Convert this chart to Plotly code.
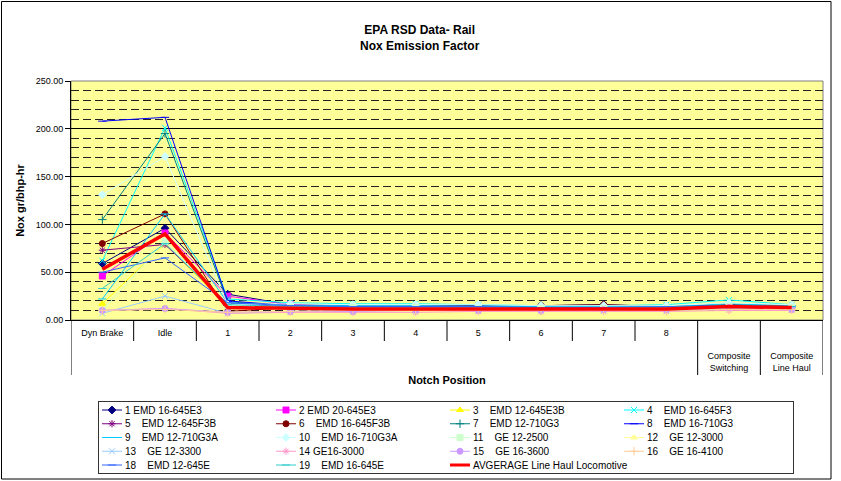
import plotly.graph_objects as go

# ---------------- data ----------------
categories = ["Dyn Brake", "Idle", "1", "2", "3", "4", "5", "6", "7", "8",
              "Composite Switching", "Composite Line Haul"]
tick_text = ["Dyn Brake", "Idle", "1", "2", "3", "4", "5", "6", "7", "8",
             "<br><br>Composite<br>Switching", "<br><br>Composite<br>Line Haul"]

s1 = [59, 96, 27, 16, 15, 15, 15, 15, 16, 14, 16, 15]
s2 = [46, 91, 25, 16, 14, 14, 13, 13, 13, 13, 14, 13]
s3 = [17, 80, 14, 12, 11, 11, 11, 11, 11, 12, 13, 12]
s4 = [62, 201, 22, 18, 17, 17, 16, 15, 15, 16, 21, 16]
s5 = [73, 79, 17, 14, 13, 13, 13, 13, 13, 14, 15, 14]
s6 = [80, 111, 9, 13, 13, 14, 13, 15, 16, 14, 15, 15]
s7 = [105, 195, 19, 15, 14, 14, 13, 10, 13, 13, 15, 14]
s8 = [208, 212, 20, 15, 14, 14, 14, 14, 14, 14, 15, 14]
s9 = [22, 111, 18, 15, 15, 15, 14, 14, 14, 14, 17, 15]
s10 = [131, 171, 16, 17, 16, 16, 16, 15, 15, 15, 18, 16]
s11 = [10, 82, 15, 13, 13, 13, 12, 12, 12, 12, 14, 13]
s12 = [6, 15, 8, 9, 9, 9, 9, 9, 9, 9, 11, 10]
s13 = [7, 25, 7, 9, 10, 10, 10, 10, 10, 10, 12, 11]
s14 = [10, 12, 7, 8, 8, 8, 9, 9, 9, 9, 10, 10]
s15 = [10, 12, 8, 9, 9, 10, 10, 10, 11, 11, 13, 11]
s16 = [10, 11, 8, 9, 10, 10, 10, 10, 10, 10, 11, 11]
s18 = [50, 65, 18, 15, 14, 14, 14, 13, 13, 14, 15, 14]
s19 = [33, 80, 16, 14, 13, 13, 13, 12, 12, 13, 15, 14]
avg = [53, 90, 13, 12, 11.5, 11.5, 11.5, 11, 11.5, 11.5, 14, 13]

series_values = [s1, s2, s3, s4, s5, s6, s7, s8, s9, s10, s11, s12,
                 s13, s14, s15, s16, s18, s19, avg]
NB = "\u00a0"
series_names = [
    "1 EMD 16-645E3", "2 EMD 20-645E3",
    "3" + NB * 4 + "EMD 12-645E3B", "4" + NB * 4 + "EMD 16-645F3",
    "5" + NB * 4 + "EMD 12-645F3B", "6" + NB * 4 + "EMD 16-645F3B",
    "7" + NB * 4 + "EMD 12-710G3", "8" + NB * 4 + "EMD 16-710G3",
    "9" + NB * 4 + "EMD 12-710G3A", "10" + NB * 4 + "EMD 16-710G3A",
    "11" + NB * 4 + "GE 12-2500", "12" + NB * 4 + "GE 12-3000",
    "13" + NB * 4 + "GE 12-3300", "14 GE16-3000",
    "15" + NB * 4 + "GE 16-3600", "16" + NB * 4 + "GE 16-4100",
    "18" + NB * 4 + "EMD 12-645E", "19" + NB * 4 + "EMD 16-645E",
    "AVGERAGE Line Haul Locomotive",
]
series_colors = ["#000080", "#FF00FF", "#FFFF00", "#00FFFF", "#800080", "#800000",
                 "#008080", "#0000FF", "#00CCFF", "#CCFFFF", "#CCFFCC", "#FFFF99",
                 "#99CCFF", "#FF99CC", "#CC99FF", "#FFCC99", "#3366FF", "#33CCCC",
                 "#FF0000"]
series_symbols = ["diamond", "square", "triangle-up", "x-thin-open", "asterisk-open",
                  "circle", "cross-thin-open", "line-ew-open", "line-ew-open",
                  "diamond", "square", "triangle-up", "x-thin-open", "asterisk-open",
                  "circle", "cross-thin-open", "line-ew-open", "line-ew-open", None]

# category boundaries: short tick marks and long ones
short_bounds = [0.5, 1.5, 2.5, 3.5, 4.5, 5.5, 6.5, 7.5, 8.5]
long_bounds = [-0.5, 9.5, 10.5, 11.5]

# ---------------- layout constants (pixels) ----------------
W, H = 841, 481
ML, MR, MT, MB = 71, 18, 81, 8
PW = W - ML - MR
PH = H - MT - MB
plot_bottom_px = 320
legend_top_px, legend_bottom_px = 402, 473
legend_left_px, legend_right_px = 99, 793


def px_x(p):
    return (p - ML) / PW


def px_y(p):
    return (H - MB - p) / PH


FONT = "Liberation Sans, Arial, sans-serif"
PLOT_BG = "#FFFF99"

fig = go.Figure()

for vals, name, col, sym in zip(series_values, series_names, series_colors, series_symbols):
    is_avg = sym is None
    fig.add_trace(go.Scatter(
        x=categories, y=vals, name=name, mode="lines" if is_avg else "lines+markers",
        line=dict(color=col, width=3.5 if is_avg else 1),
        marker=dict(symbol=sym or "circle", size=6, color=col,
                    line=dict(color=col, width=1)),
        showlegend=False, xaxis="x", yaxis="y",
    ))

# ---- custom legend drawn in its own small axes ----
LEG_W = legend_right_px - legend_left_px
LEG_H = legend_bottom_px - legend_top_px
col_w, row_h = 174, 13.75
annotations = []
for i, (name, col, sym) in enumerate(zip(series_names, series_colors, series_symbols)):
    c, r = i % 4, i // 4
    x0 = 3 + c * col_w
    yy = LEG_H - (8 + r * row_h)
    fig.add_trace(go.Scatter(
        x=[x0, x0 + 20], y=[yy, yy], mode="lines", showlegend=False,
        line=dict(color=col, width=3 if sym is None else 1),
        xaxis="x2", yaxis="y2", hoverinfo="skip"))
    if sym is not None:
        fig.add_trace(go.Scatter(
            x=[x0 + 10], y=[yy], mode="markers", showlegend=False,
            marker=dict(symbol=sym, size=6, color=col, line=dict(color=col, width=1)),
            xaxis="x2", yaxis="y2", hoverinfo="skip"))
    annotations.append(dict(
        x=x0 + 21, y=yy, xref="x2", yref="y2", text=name, showarrow=False,
        xanchor="left", yanchor="middle", font=dict(family=FONT, size=10, color="black")))

annotations.append(dict(
    x=px_x(420), y=px_y(38), xref="paper", yref="paper", showarrow=False,
    text="<b>EPA RSD Data- Rail<br>Nox Emission Factor</b>",
    font=dict(family=FONT, size=12, color="black"), xanchor="center", yanchor="middle"))

main_y_bottom = px_y(plot_bottom_px)

shapes = [
    # yellow plot area
    dict(type="rect", xref="x domain", yref="y domain", x0=0, x1=1, y0=0, y1=1,
         fillcolor=PLOT_BG, line=dict(color="#808080", width=1), layer="below"),
    # outer chart border
    dict(type="rect", xref="paper", yref="paper",
         x0=px_x(1.5), x1=px_x(831), y0=px_y(1.5), y1=px_y(479),
         line=dict(color="black", width=1)),
]
for b in short_bounds:
    shapes.append(dict(type="line", xref="x", yref="paper", x0=b, x1=b,
                       y0=main_y_bottom, y1=px_y(341), line=dict(color="black", width=1)))
for b in long_bounds:
    shapes.append(dict(type="line", xref="x", yref="paper", x0=b, x1=b,
                       y0=main_y_bottom, y1=px_y(375), line=dict(color="black", width=1)))

fig.update_layout(
    width=W, height=H,
    margin=dict(l=ML, r=MR, t=MT, b=MB, autoexpand=False),
    paper_bgcolor="white", plot_bgcolor="rgba(0,0,0,0)",
    font=dict(family=FONT, size=9, color="black"),
    annotations=annotations,
    shapes=shapes,
    xaxis=dict(
        type="category", categoryorder="array", categoryarray=categories,
        range=[-0.5, 11.5], tickvals=categories, ticktext=tick_text,
        ticks="", showline=True, linecolor="black", linewidth=1,
        showgrid=False, zeroline=False, ticklabelstandoff=4, automargin=False,
        tickfont=dict(family=FONT, size=9, color="black"),
        title=dict(text="<b>Notch Position</b>", font=dict(family=FONT, size=11), standoff=4),
        anchor="y",
    ),
    yaxis=dict(
        domain=[main_y_bottom, 1], range=[0, 250], dtick=50, tickformat=".2f",
        ticks="outside", ticklen=5, tickcolor="black", showline=True,
        linecolor="black", linewidth=1, zeroline=False, automargin=False,
        showgrid=True, gridcolor="black", gridwidth=1,
        minor=dict(dtick=10, showgrid=True, gridcolor="#222222", gridwidth=1,
                   griddash="8px,4px", ticks=""),
        tickfont=dict(family=FONT, size=9, color="black"),
        title=dict(text="<b>Nox gr/bhp-hr</b>", font=dict(family=FONT, size=11), standoff=8),
        anchor="x",
    ),
    xaxis2=dict(
        domain=[px_x(legend_left_px), px_x(legend_right_px)], range=[0, LEG_W],
        anchor="y2", showline=True, mirror=True, linecolor="#333333", linewidth=1,
        showgrid=False, zeroline=False, showticklabels=False, ticks="", fixedrange=True,
        automargin=False,
    ),
    yaxis2=dict(
        domain=[0, px_y(legend_top_px)], range=[0, LEG_H],
        anchor="x2", showline=True, mirror=True, linecolor="#333333", linewidth=1,
        showgrid=False, zeroline=False, showticklabels=False, ticks="", fixedrange=True,
        automargin=False,
    ),
)

fig.write_html("out.html", config={"displayModeBar": False},
               post_script="document.body.style.margin='0';")
